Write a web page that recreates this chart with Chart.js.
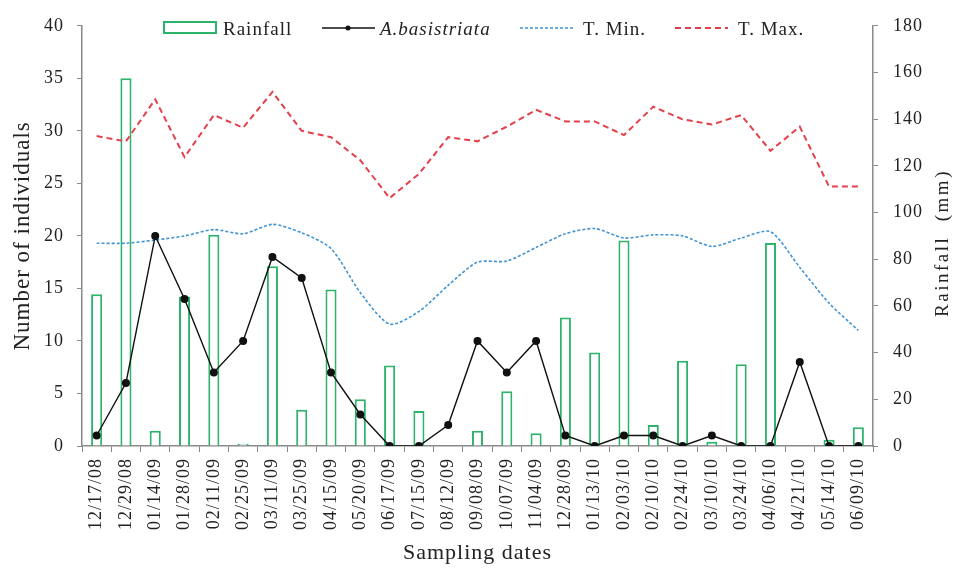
<!DOCTYPE html>
<html>
<head>
<meta charset="utf-8">
<script src="https://cdn.jsdelivr.net/npm/chart.js@4.4.1/dist/chart.umd.min.js"></script>
<style>
  html, body { margin: 0; padding: 0; background: #fff; }
  #wrap { position: relative; width: 958px; height: 571px; }
</style>
</head>
<body>
<div id="wrap"><canvas id="chart" width="958" height="571"></canvas></div>
<script>
// Datos
const fechas = ['12/17/08','12/29/08','01/14/09','01/28/09','02/11/09','02/25/09','03/11/09','03/25/09',
    '04/15/09','05/20/09','06/17/09','07/15/09','08/12/09','09/08/09','10/07/09','11/04/09','12/28/09',
    '01/13/10','02/03/10','02/10/10','02/24/10','03/10/10','03/24/10','04/06/10','04/21/10','05/14/10','06/09/10'];
const lluvia = [65, 157.5, 6.5, 64, 90.5, 1, 77, 15.5, 67, 20, 34.5, 15, 0, 6.5, 23.5, 5.5, 55,
    40, 88, 9, 36.5, 1.8, 35, 87, 0, 2.7, 8];
const individuos = [1, 6, 20, 14, 7, 10, 18, 16, 7, 3, 0, 0, 2, 10, 7, 10, 1, 0, 1, 1, 0, 1, 0, 0, 8, 0, 0];
const tMin = [19.3, 19.3, 19.6, 20.0, 20.6, 20.2, 21.1, 20.3, 18.8, 14.6, 11.6, 12.8, 15.3, 17.5, 17.6,
    18.9, 20.2, 20.7, 19.8, 20.1, 20.0, 19.0, 19.8, 20.4, 17.0, 13.6, 11.0];
const tMax = [29.5, 29.0, 33.0, 27.5, 31.5, 30.3, 33.7, 30.0, 29.4, 27.2, 23.6, 25.9, 29.4, 29.0, 30.4,
    32.0, 30.9, 30.9, 29.6, 32.3, 31.1, 30.6, 31.5, 28.1, 30.4, 24.7, 24.7];
const ticksIzq = [0, 5, 10, 15, 20, 25, 30, 35, 40];
const ticksDer = [0, 20, 40, 60, 80, 100, 120, 140, 160, 180];

const serif = '"Liberation Serif", "Times New Roman", serif';
const gris = '#8a8a8a';
const verde = '#2db36a';
const azul = '#3f93d3';
const rojo = '#e3404c';

// Espaciado de letras (el original está algo estirado)
const espaciado = {
    id: 'espaciado',
    beforeLayout(chart) { chart.ctx.letterSpacing = '1px'; },
    beforeDraw(chart) { chart.ctx.letterSpacing = '1px'; }
};

// Leyenda dentro del área del gráfico y título del eje derecho
const extras = {
    id: 'extras',
    afterDraw(chart) {
        const ctx = chart.ctx;
        ctx.save();
        const y = 28;
        const base = 35;
        ctx.letterSpacing = '1px';
        ctx.font = '19px ' + serif;
        ctx.fillStyle = '#222';
        ctx.textBaseline = 'alphabetic';
        // Rainfall
        ctx.strokeStyle = verde; ctx.lineWidth = 2;
        ctx.strokeRect(164, 22, 52, 11);
        ctx.fillText('Rainfall', 223, base);
        // A.basistriata
        ctx.strokeStyle = '#111'; ctx.lineWidth = 1.5;
        ctx.beginPath(); ctx.moveTo(322, y); ctx.lineTo(375, y); ctx.stroke();
        ctx.fillStyle = '#111';
        ctx.beginPath(); ctx.arc(348, y, 2.5, 0, Math.PI * 2); ctx.fill();
        ctx.fillStyle = '#222';
        ctx.font = 'italic 19px ' + serif;
        ctx.fillText('A.basistriata', 380, base);
        ctx.font = '19px ' + serif;
        // T. Min.
        ctx.strokeStyle = azul; ctx.lineWidth = 1.5; ctx.setLineDash([3, 2]);
        ctx.beginPath(); ctx.moveTo(520, y); ctx.lineTo(575, y); ctx.stroke();
        ctx.fillText('T. Min.', 583, base);
        // T. Max.
        ctx.strokeStyle = rojo; ctx.lineWidth = 2; ctx.setLineDash([6, 4]);
        ctx.beginPath(); ctx.moveTo(675, y); ctx.lineTo(728, y); ctx.stroke();
        ctx.fillText('T. Max.', 738, base);
        ctx.setLineDash([]);
        // Título eje derecho
        ctx.translate(943, 243);
        ctx.rotate(-Math.PI / 2);
        ctx.textAlign = 'center';
        ctx.textBaseline = 'middle';
        ctx.letterSpacing = '2.5px';
        ctx.font = '19px ' + serif;
        ctx.fillText('Rainfall  (mm)', 0, 0);
        ctx.restore();
    }
};

document.addEventListener('DOMContentLoaded', function() {
    const ctx = document.getElementById('chart').getContext('2d');
    new Chart(ctx, {
        data: {
            labels: fechas,
            datasets: [
                { type: 'line', label: 'A.basistriata', data: individuos, yAxisID: 'y', order: 1,
                  borderColor: '#111', backgroundColor: '#111', borderWidth: 1.4,
                  pointRadius: 3.3, pointHoverRadius: 3.3, tension: 0 },
                { type: 'line', label: 'T. Min.', data: tMin, yAxisID: 'y', order: 2,
                  borderColor: azul, borderWidth: 1.6, borderDash: [3, 2], pointRadius: 0, tension: 0.25 },
                { type: 'line', label: 'T. Max.', data: tMax, yAxisID: 'y', order: 3,
                  borderColor: rojo, borderWidth: 2, borderDash: [6, 4], pointRadius: 0, tension: 0 },
                { type: 'bar', label: 'Rainfall', data: lluvia, yAxisID: 'y1', order: 4,
                  borderColor: verde, backgroundColor: '#fff', borderWidth: 2,
                  barPercentage: 0.42, categoryPercentage: 0.9 }
            ]
        },
        options: {
            responsive: false,
            animation: false,
            layout: { padding: { top: 21, right: 0, left: 0, bottom: 0 } },
            plugins: { legend: { display: false }, tooltip: { enabled: false } },
            scales: {
                x: {
                    afterFit: (s) => { s.height = 125; },
                    grid: { display: true, drawOnChartArea: false, offset: true, color: gris, tickLength: 6 },
                    border: { color: gris, width: 1.5 },
                    ticks: { color: '#222', font: { family: serif, size: 18 }, minRotation: 90, maxRotation: 90, autoSkip: false, padding: 6 },
                    title: { display: true, text: 'Sampling dates', color: '#222', font: { family: serif, size: 22 }, padding: { bottom: 5 } }
                },
                y: {
                    position: 'left', min: 0, max: 40,
                    afterFit: (s) => { s.width = 82; },
                    afterBuildTicks: (s) => { s.ticks = ticksIzq.map(v => ({ value: v })); },
                    grid: { display: true, drawOnChartArea: false, color: gris, tickLength: 5 },
                    border: { color: gris, width: 1.5 },
                    ticks: { color: '#222', font: { family: serif, size: 18 }, padding: 13 },
                    title: { display: true, text: 'Number of individuals', color: '#222', font: { family: serif, size: 23 }, padding: { top: 9 } }
                },
                y1: {
                    position: 'right', min: 0, max: 180,
                    afterFit: (s) => { s.width = 85; },
                    afterBuildTicks: (s) => { s.ticks = ticksDer.map(v => ({ value: v })); },
                    grid: { display: true, drawOnChartArea: false, color: gris, tickLength: 5 },
                    border: { color: gris, width: 1.5 },
                    ticks: { color: '#222', font: { family: serif, size: 18 }, padding: 15 }
                }
            }
        },
        plugins: [espaciado, extras]
    });
});
</script>
</body>
</html>
